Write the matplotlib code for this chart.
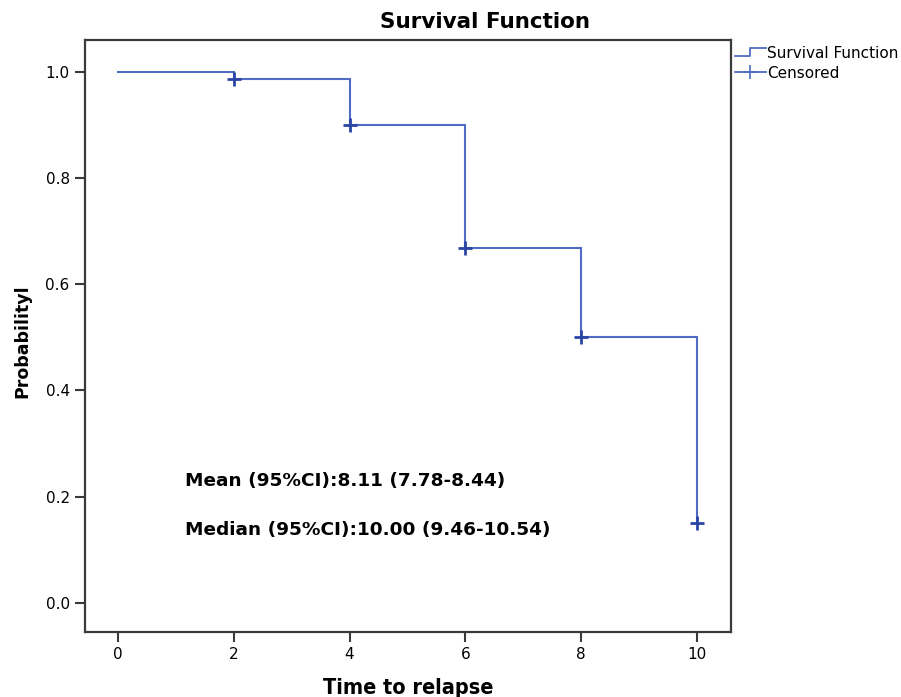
import matplotlib
matplotlib.use("Agg")
import matplotlib.pyplot as plt
from matplotlib.lines import Line2D
from matplotlib.legend_handler import HandlerBase

# Data
times = [0, 2, 4, 6, 8, 10]
survival = [1.0, 0.986, 0.899, 0.668, 0.500, 0.150]
censor_times = [2, 4, 6, 8, 10]
censor_surv = [0.986, 0.899, 0.668, 0.500, 0.150]
xticks = [0, 2, 4, 6, 8, 10]
yticks = [0.0, 0.2, 0.4, 0.6, 0.8, 1.0]
annot_lines = ["Mean (95%CI):8.11 (7.78-8.44)", "Median (95%CI):10.00 (9.46-10.54)"]

line_col = "#4f6bc4"
mark_col = "#2a45a6"
frame_col = "#3a3a3a"

plt.rcParams['font.family'] = ['DejaVu Sans']

fig = plt.figure(figsize=(9.01, 6.97), dpi=100)
ax = fig.add_axes([0.0943, 0.0933, 0.717, 0.8493])

# step function: vertical drops at each time
xs, ys = [], []
for i in range(len(times)):
    if i == 0:
        xs.append(times[0]); ys.append(survival[0])
    else:
        xs += [times[i], times[i]]
        ys += [survival[i - 1], survival[i]]
ax.plot(xs, ys, color=line_col, lw=1.5, solid_joinstyle='miter')
ax.plot(censor_times, censor_surv, linestyle='none', marker='+', markersize=10,
        markeredgewidth=2.0, color=mark_col)

ax.set_xlim(-0.57, 10.59)
ax.set_ylim(-0.055, 1.06)
ax.set_xticks(xticks)
ax.set_xticklabels([str(t) for t in xticks])
ax.set_yticks(yticks)
ax.set_yticklabels([f"{v:.1f}" for v in yticks])
ax.tick_params(direction='out', length=7, width=1.5, color=frame_col,
               labelsize=11, labelcolor='black', pad=4)
for s in ax.spines.values():
    s.set_color(frame_col)
    s.set_linewidth(1.6)

fig.text(485 / 901, 1 - 22 / 697, "Survival Function", fontsize=15.5, fontweight='bold',
         ha='center', va='center')
fig.text(408 / 901, 1 - 688 / 697, "Time to relapse", fontsize=15.5, fontweight='bold',
         ha='center', va='center', fontstretch='condensed')
fig.text(22 / 901, 1 - 341 / 697, "Probabilityl", fontsize=12.5, fontweight='bold',
         ha='center', va='center', rotation=90)

ax.text(1.16, 0.23, annot_lines[0], fontsize=13.3, fontweight='bold', va='center', ha='left')
ax.text(1.16, 0.137, annot_lines[1], fontsize=13.3, fontweight='bold', va='center', ha='left')


class StepHandler(HandlerBase):
    def create_artists(self, legend, orig_handle, xdescent, ydescent, width, height, fontsize, trans):
        x0, x1 = -xdescent, -xdescent + width
        xm = x0 + width * 0.5
        yl, yh = -ydescent + height * 0.2, -ydescent + height * 0.95
        l = Line2D([x0, xm, xm, x1], [yl, yl, yh, yh], color=line_col, lw=1.3, transform=trans)
        return [l]


class CensorHandler(HandlerBase):
    def create_artists(self, legend, orig_handle, xdescent, ydescent, width, height, fontsize, trans):
        x0, x1 = -xdescent, -xdescent + width
        yc = -ydescent + height / 2
        l = Line2D([x0, x1], [yc, yc], color=line_col, lw=1.3, transform=trans)
        m = Line2D([(x0 + x1) / 2], [yc], marker='+', markersize=10, markeredgewidth=1.2,
                   color=line_col, linestyle='none', transform=trans)
        return [l, m]


h1 = Line2D([], [], color=line_col)
h2 = Line2D([], [], color=line_col, marker='+')
leg = fig.legend([h1, h2], ["Survival Function", "Censored"],
                 handler_map={h1: StepHandler(), h2: CensorHandler()},
                 loc='upper left', bbox_to_anchor=(735 / 901, 1 - 46 / 697),
                 frameon=False, fontsize=11, handlelength=2.0, handletextpad=0.1,
                 borderaxespad=0, borderpad=0, labelspacing=0.3)

fig.savefig("out.png", dpi=100)
